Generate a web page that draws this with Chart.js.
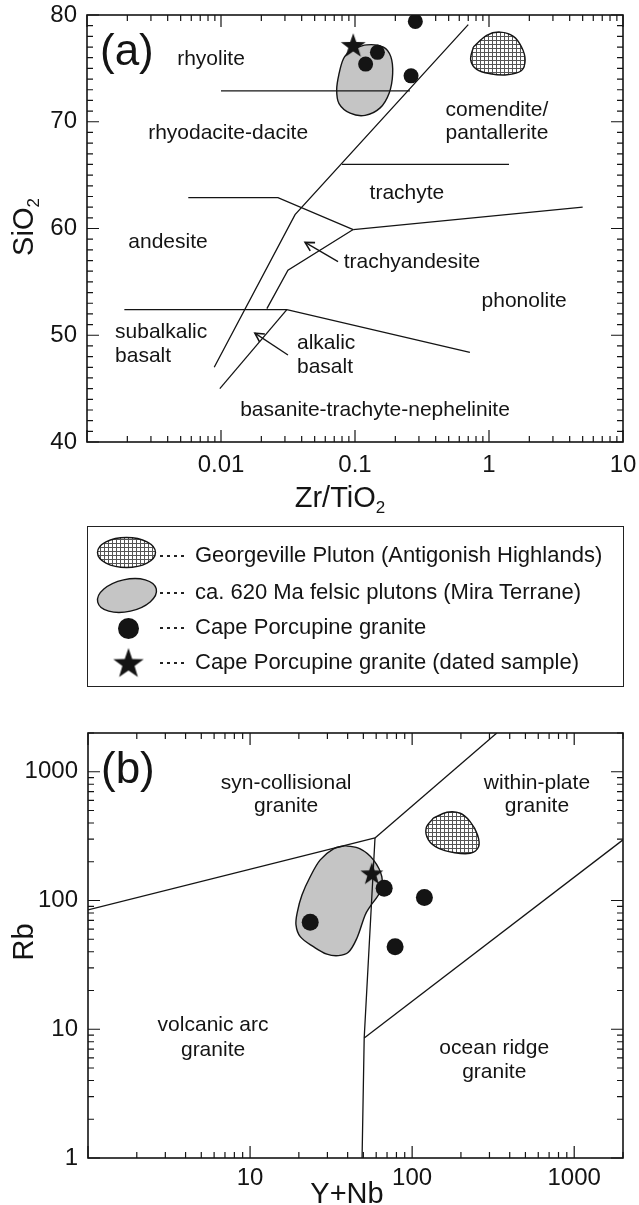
<!DOCTYPE html>
<html>
<head>
<meta charset="utf-8">
<script src="https://cdn.jsdelivr.net/npm/chart.js@4.4.1/dist/chart.umd.min.js"></script>
<style>
  body { margin: 0; background: #fff; }
  #page { position: relative; width: 639px; height: 1205px; overflow: hidden; background: #fff;
          font-family: "Liberation Sans", Arial, sans-serif; color: #141414; }
  #chartA { position: absolute; left: 0; top: 0; }
  #chartB { position: absolute; left: 0; top: 700px; }
  #legend { position: absolute; left: 87px; top: 526px; width: 537px; height: 161px;
            border: 1.5px solid #222; box-sizing: border-box; }
  #legendIcons { position: absolute; left: 0; top: 0; }
  .dots { position: absolute; left: 72px; width: 25px; height: 2px;
          background: repeating-linear-gradient(to right, #222 0 3px, transparent 3px 7px); }
  .txt { position: absolute; left: 107px; font-size: 22px; line-height: 26px; white-space: nowrap; }
</style>
</head>
<body>
<div id="page">
  <canvas id="chartA" width="639" height="520"></canvas>
  <div id="legend">
    <canvas id="legendIcons" width="534" height="158"></canvas>
    <div class="dots" style="top:28px"></div><div class="txt" style="top:15px">Georgeville Pluton (Antigonish Highlands)</div>
    <div class="dots" style="top:65px"></div><div class="txt" style="top:52px">ca. 620 Ma felsic plutons (Mira Terrane)</div>
    <div class="dots" style="top:100px"></div><div class="txt" style="top:87px">Cape Porcupine granite</div>
    <div class="dots" style="top:135px"></div><div class="txt" style="top:122px">Cape Porcupine granite (dated sample)</div>
  </div>
  <canvas id="chartB" width="639" height="505"></canvas>
</div>
<script>
// ---- (a) SiO2 vs Zr/TiO2 : [Zr/TiO2, SiO2] ----
const aSubalkalineLine = [[0.0089, 47.0], [0.0357, 61.3], [0.70, 79.1]];
const aRhyoliteLine = [[0.010, 72.9], [0.257, 72.9]];
const aComenditeLine = [[0.080, 66.0], [1.41, 66.0]];
const aAndesiteLine = [[0.0057, 62.9], [0.0266, 62.9], [0.097, 59.9]];
const aTrachyteLine = [[0.097, 59.9], [5.0, 62.0]];
const aTrachyandesiteLine = [[0.022, 52.5], [0.0316, 56.1], [0.097, 59.9]];
const aBasaltLine = [[0.0019, 52.4], [0.031, 52.4], [0.72, 48.4]];
const aAlkaliBasaltLine = [[0.0098, 45.0], [0.031, 52.4]];
const aArrows = [[[0.0747, 56.9], [0.0424, 58.7]], [[0.0316, 48.15], [0.0179, 50.2]]];

const aMiraField = [[0.092, 76.7], [0.122, 77.2], [0.163, 77.0], [0.185, 76.1], [0.191, 74.5], [0.180, 72.7],
  [0.154, 71.3], [0.119, 70.6], [0.092, 70.8], [0.076, 71.7], [0.073, 73.0], [0.076, 74.5], [0.082, 75.9]];
const aGeorgevilleField = [[0.764, 77.0], [0.961, 78.1], [1.21, 78.4], [1.52, 78.0], [1.75, 77.0], [1.86, 75.8],
  [1.75, 74.8], [1.36, 74.4], [1.02, 74.5], [0.81, 74.9], [0.73, 75.8]];
const aGranite = [[0.282, 79.4], [0.147, 76.5], [0.120, 75.4], [0.262, 74.3]];
const aDated = [[0.097, 77.2]];

const aXTickLabels = ['0.01', '0.1', '1', '10'];
const aYTickLabels = ['40', '50', '60', '70', '80'];

const aLabels = [
  ['rhyolite', 0.00842, 75.9], ['rhyodacite-dacite', 0.0113, 68.95],
  ['comendite/', 1.147, 71.1], ['pantallerite', 1.147, 68.95],
  ['trachyte', 0.244, 63.3], ['andesite', 0.00402, 58.7],
  ['trachyandesite', 0.266, 56.8], ['phonolite', 1.83, 53.2],
  ['subalkalic', 0.00162, 50.3, 'left'], ['basalt', 0.00162, 48.06, 'left'],
  ['alkalic', 0.0369, 49.27, 'left'], ['basalt', 0.0369, 47.03, 'left'],
  ['basanite-trachyte-nephelinite', 0.141, 43.0]
];

// ---- (b) Rb vs Y+Nb : [Y+Nb, Rb] ----
const bVagSynColLine = [[1, 84.6], [59, 306]];
const bWpgSynColLine = [[59, 306], [333, 2000]];
const bVagOrgLine = [[59, 306], [50.6, 8.56], [49.1, 1]];
const bWpgOrgLine = [[50.6, 8.56], [2000, 296]];

const bMiraField = [[38.6, 267], [47.8, 252], [57.7, 207], [65.0, 153], [63.4, 117], [55.0, 89.8], [51.3, 77.3],
  [45.6, 50.9], [40.4, 39.6], [35.1, 37.3], [29.8, 38.3], [24.6, 43.8], [20.4, 52.4], [19.2, 64.6],
  [19.6, 82.0], [20.9, 110.5], [23.5, 153], [27.1, 207], [32.7, 252]];
const bGeorgevilleField = [[135, 436], [164, 485], [198, 476], [228, 410], [253, 324], [257, 262],
  [228, 233], [180, 236], [145, 255], [126, 296], [122, 365]];
const bGranite = [[23.5, 67.8], [67.2, 124.7], [78.5, 43.8], [119, 105.4]];
const bDated = [[56.4, 163]];

const bXTickLabels = ['10', '100', '1000'];
const bYTickLabels = ['1', '10', '100', '1000'];

const bLabels = [
  ['syn-collisional', 16.7, 815], ['granite', 16.7, 536],
  ['within-plate', 589, 815], ['granite', 589, 536],
  ['volcanic arc', 5.91, 10.8], ['granite', 5.91, 6.9],
  ['ocean ridge', 321, 7.16], ['granite', 321, 4.66]
];

const INK = '#141414';
const FONT = '"Liberation Sans", Arial, sans-serif';

const pts = arr => arr.map(([x, y]) => ({ x, y }));
const fmt = v => String(Number(v.toPrecision(6)));

function hatchPattern(ctx) {
  const c = document.createElement('canvas');
  c.width = 4; c.height = 4;
  const g = c.getContext('2d');
  g.fillStyle = '#fff'; g.fillRect(0, 0, 4, 4);
  g.fillStyle = '#555'; g.fillRect(0, 0, 4, 1); g.fillRect(0, 0, 1, 4);
  return ctx.createPattern(c, 'repeat');
}
const GREY = '#c5c5c5';

function makeStar(R) {
  const s = Math.ceil(R * 2 + 4);
  const c = document.createElement('canvas');
  c.width = s; c.height = s;
  const g = c.getContext('2d');
  g.fillStyle = INK;
  g.beginPath();
  for (let i = 0; i < 10; i++) {
    const r = i % 2 ? R * 0.4 : R;
    const ang = -Math.PI / 2 + i * Math.PI / 5;
    g.lineTo(s / 2 + r * Math.cos(ang), s / 2 + R * 0.1 + r * Math.sin(ang));
  }
  g.closePath();
  g.fill();
  return c;
}

function lineSet(arr) {
  return { data: pts(arr), showLine: true, borderColor: INK, borderWidth: 1.3,
           pointRadius: 0, fill: false, tension: 0, order: 2 };
}
function fieldSet(arr, bg) {
  return { data: pts(arr.concat([arr[0]])), showLine: true, borderColor: INK, borderWidth: 1.4,
           backgroundColor: bg, pointRadius: 0, tension: 0.35, fill: 'shape', order: 3 };
}
function pointSet(arr, style, r) {
  return { data: pts(arr), showLine: false, pointStyle: style, pointRadius: r,
           backgroundColor: INK, borderColor: INK, borderWidth: 0, order: 1 };
}

// inward ticks on all four sides, plus the box
const framePlugin = {
  id: 'frame',
  afterDatasetsDraw(chart) {
    const { ctx, chartArea: a } = chart;
    const sx = chart.scales.x, sy = chart.scales.y;
    const isWhole = v => Math.abs(v - Math.round(v)) < 1e-6;
    const keep = (s, v) => {
      if (s.type !== 'logarithmic') return true;
      const m = v / Math.pow(10, Math.floor(Math.log10(v) + 1e-9));
      return isWhole(m);
    };
    const major = (s, v) => s.type === 'logarithmic' ? isWhole(Math.log10(v)) : isWhole(v / 10);
    ctx.save();
    ctx.strokeStyle = INK;
    ctx.lineWidth = 1.2;
    ctx.beginPath();
    sx.ticks.forEach(t => {
      if (!keep(sx, t.value)) return;
      const p = sx.getPixelForValue(t.value);
      const len = major(sx, t.value) ? 12 : 6;
      ctx.moveTo(p, a.bottom); ctx.lineTo(p, a.bottom - len);
      ctx.moveTo(p, a.top); ctx.lineTo(p, a.top + len);
    });
    sy.ticks.forEach(t => {
      if (!keep(sy, t.value)) return;
      const p = sy.getPixelForValue(t.value);
      const len = major(sy, t.value) ? 12 : 6;
      ctx.moveTo(a.left, p); ctx.lineTo(a.left + len, p);
      ctx.moveTo(a.right, p); ctx.lineTo(a.right - len, p);
    });
    ctx.stroke();
    ctx.lineWidth = 1.6;
    ctx.strokeRect(a.left, a.top, a.right - a.left, a.bottom - a.top);
    ctx.restore();
  }
};

function subText(ctx, base, sub, size, cx, baseline) {
  ctx.font = size + 'px ' + FONT;
  const wb = ctx.measureText(base).width;
  ctx.font = Math.round(size * 0.6) + 'px ' + FONT;
  const ws = ctx.measureText(sub).width;
  const x0 = cx - (wb + ws) / 2;
  ctx.textAlign = 'left';
  ctx.textBaseline = 'alphabetic';
  ctx.font = size + 'px ' + FONT;
  ctx.fillText(base, x0, baseline);
  ctx.font = Math.round(size * 0.6) + 'px ' + FONT;
  ctx.fillText(sub, x0 + wb, baseline + size * 0.2);
}

function labelPlugin(labels, arrows, extra) {
  return {
    id: 'labels',
    afterDatasetsDraw(chart) {
      const { ctx } = chart;
      const sx = chart.scales.x, sy = chart.scales.y;
      ctx.save();
      ctx.fillStyle = INK;
      ctx.strokeStyle = INK;
      ctx.font = '21px ' + FONT;
      ctx.textBaseline = 'middle';
      labels.forEach(([text, vx, vy, align]) => {
        ctx.textAlign = align || 'center';
        ctx.fillText(text, sx.getPixelForValue(vx), sy.getPixelForValue(vy));
      });
      ctx.lineWidth = 1.6;
      arrows.forEach(([tail, head]) => {
        const tx = sx.getPixelForValue(tail[0]), ty = sy.getPixelForValue(tail[1]);
        const hx = sx.getPixelForValue(head[0]), hy = sy.getPixelForValue(head[1]);
        const ang = Math.atan2(hy - ty, hx - tx);
        ctx.beginPath();
        ctx.moveTo(hx - 10 * Math.cos(ang - 0.5), hy - 10 * Math.sin(ang - 0.5));
        ctx.lineTo(hx, hy);
        ctx.lineTo(hx - 10 * Math.cos(ang + 0.5), hy - 10 * Math.sin(ang + 0.5));
        ctx.stroke();
      });
      extra(ctx, chart);
      ctx.restore();
    }
  };
}

function axisOptions(type, min, max, labelList, pad, fitSize, horizontal, stepSize) {
  return {
    type, min, max,
    grid: { display: false, drawTicks: false, tickLength: 0 },
    border: { display: false },
    ticks: {
      autoSkip: false, maxRotation: 0, padding: pad, color: INK, stepSize,
      font: { family: FONT, size: 24 },
      callback: v => labelList.includes(fmt(v)) ? fmt(v) : ''
    },
    afterFit: s => {
      if (horizontal) s.height = fitSize; else s.width = fitSize;
      s.paddingTop = 0; s.paddingBottom = 0; s.paddingLeft = 0; s.paddingRight = 0;
    }
  };
}

function baseOptions(padding, x, y) {
  return {
    responsive: false, animation: false, events: [],
    layout: { padding },
    plugins: { legend: { display: false }, tooltip: { enabled: false } },
    scales: { x, y }
  };
}

// ---- chart (a) ----
const ctxA = document.getElementById('chartA').getContext('2d');
new Chart(ctxA, {
  type: 'scatter',
  data: {
    datasets: [
      fieldSet(aMiraField, GREY),
      fieldSet(aGeorgevilleField, hatchPattern(ctxA)),
      lineSet(aSubalkalineLine), lineSet(aRhyoliteLine), lineSet(aComenditeLine),
      lineSet(aAndesiteLine), lineSet(aTrachyteLine), lineSet(aTrachyandesiteLine),
      lineSet(aBasaltLine), lineSet(aAlkaliBasaltLine),
      ...aArrows.map(lineSet),
      pointSet(aGranite, 'circle', 7.5),
      pointSet(aDated, makeStar(13), 12)
    ]
  },
  options: baseOptions({ left: 0, top: 15, right: 16, bottom: 0 },
    axisOptions('logarithmic', 0.001, 10, aXTickLabels, 9, 78, true),
    axisOptions('linear', 40, 80, aYTickLabels, 10, 87, false, 1)),
  plugins: [framePlugin, labelPlugin(aLabels, aArrows, (ctx) => {
    ctx.fillStyle = INK;
    ctx.textAlign = 'left';
    ctx.textBaseline = 'alphabetic';
    ctx.font = '44px ' + FONT;
    ctx.fillText('(a)', 100, 65);
    subText(ctx, 'Zr/TiO', '2', 29, 340, 507);
    ctx.save();
    ctx.translate(33, 227);
    ctx.rotate(-Math.PI / 2);
    subText(ctx, 'SiO', '2', 29, 0, 0);
    ctx.restore();
  })]
});

// ---- chart (b) ----
const ctxB = document.getElementById('chartB').getContext('2d');
new Chart(ctxB, {
  type: 'scatter',
  data: {
    datasets: [
      fieldSet(bMiraField, GREY),
      fieldSet(bGeorgevilleField, hatchPattern(ctxB)),
      lineSet(bVagSynColLine), lineSet(bWpgSynColLine), lineSet(bVagOrgLine), lineSet(bWpgOrgLine),
      pointSet(bGranite, 'circle', 8.5),
      pointSet(bDated, makeStar(12), 11)
    ]
  },
  options: baseOptions({ left: 0, top: 33, right: 16, bottom: 0 },
    axisOptions('logarithmic', 1, 2000, bXTickLabels, 6, 47, true),
    axisOptions('logarithmic', 1, 2000, bYTickLabels, 10, 88, false)),
  plugins: [framePlugin, labelPlugin(bLabels, [], (ctx) => {
    ctx.fillStyle = INK;
    ctx.textAlign = 'left';
    ctx.textBaseline = 'alphabetic';
    ctx.font = '44px ' + FONT;
    ctx.fillText('(b)', 101, 83);
    ctx.textAlign = 'center';
    ctx.font = '29px ' + FONT;
    ctx.fillText('Y+Nb', 347, 503);
    ctx.save();
    ctx.translate(33, 242);
    ctx.rotate(-Math.PI / 2);
    ctx.fillText('Rb', 0, 0);
    ctx.restore();
  })]
});

// ---- legend symbols ----
(function () {
  const g = document.getElementById('legendIcons').getContext('2d');
  g.strokeStyle = INK;
  g.lineWidth = 1.4;
  g.fillStyle = hatchPattern(g);
  g.beginPath();
  g.ellipse(38.5, 25.5, 29, 15, 0, 0, Math.PI * 2);
  g.fill(); g.stroke();
  g.fillStyle = GREY;
  g.beginPath();
  g.ellipse(39, 68.5, 30, 16, -0.22, 0, Math.PI * 2);
  g.fill(); g.stroke();
  g.fillStyle = INK;
  g.beginPath();
  g.arc(40.5, 101.5, 10.5, 0, Math.PI * 2);
  g.fill();
  const st = makeStar(16);
  g.drawImage(st, 40.5 - st.width / 2, 135.5 - st.height / 2);
})();
</script>
</body>
</html>
